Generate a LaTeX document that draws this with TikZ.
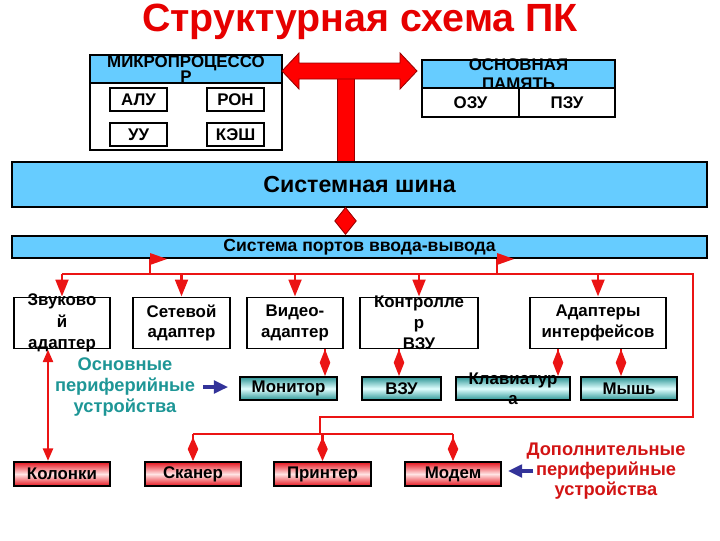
\documentclass[tikz,border=0pt]{standalone}
\usepackage{fontspec}
\setmainfont{Liberation Sans}
\usepackage{tikz}
\usetikzlibrary{arrows.meta, positioning}
\usepackage{xcolor}
\definecolor{bluebar}{RGB}{102,204,255}
\definecolor{redarrow}{RGB}{255,0,0}
\definecolor{darkred}{RGB}{150,0,0}
\definecolor{redline}{RGB}{235,20,20}
\definecolor{titlered}{RGB}{230,0,0}
\definecolor{tealtxt}{RGB}{30,150,150}
\definecolor{tealbox}{RGB}{45,150,150}
\definecolor{tealmid}{RGB}{225,255,255}
\definecolor{redbox}{RGB}{230,20,30}
\definecolor{pinkmid}{RGB}{255,228,228}
\definecolor{navyarr}{RGB}{51,51,153}
\definecolor{dopred}{RGB}{210,20,20}

\begin{document}
\begin{tikzpicture}[x = 0.025cm, y = -0.025cm,
    sz/.style 2 args = {minimum width = #1*0.025cm, minimum height = #2*0.025cm},
    blk/.style = {draw, line width = 1.4pt, fill = white, inner sep = 0pt},
    txt/.style n args = {3}{label = {[font = \fontsize{#2}{#3}\selectfont\bfseries, align = center, inner sep = 0pt]center:#1}},
    bar/.style = {blk, fill = bluebar},
    dev/.style = {blk, top color = tealbox, bottom color = tealbox, middle color = tealmid},
    per/.style = {blk, top color = redbox, bottom color = redbox, middle color = pinkmid},
    rline/.style = {draw = redline, line width = 2pt},
    rarr/.style = {rline, -{Triangle[length = 12pt, width = 9pt]}},
    rdia/.style = {rline, -{Diamond[length = #1, width = 7.5pt]}},
    barr/.style = {draw = navyarr, line width = 2.2pt, -{Triangle[length = 10pt, width = 9pt]}},
    note/.style = {font = \fontsize{13}{15}\selectfont\bfseries, align = center, inner sep = 0pt},
    tarrow/.style = {fill = redarrow, draw = darkred, line width = 0.6pt}
]
    % Parametri (righe)
    \pgfmathsetmacro{\yad}{323}
    \pgfmathsetmacro{\ydev}{388.5}
    \pgfmathsetmacro{\yper}{474}
    \pgfmathsetmacro{\ytree}{274}
    \useasboundingbox (0,0) rectangle (720,540);
    % Titolo
    \node[font = \fontsize{28}{32}\selectfont\bfseries, text = titlered] (title) at (360,22) {Структурная схема ПК};
    % Microprocessore
    \node[blk, sz = {192}{95}] (mp) at (186,102.5) {};
    \node[bar, sz = {192}{28}, txt = {МИКРОПРОЦЕССО\\Р}{12}{11}] (mph) at (186,69) {};
    \node[blk, sz = {57}{23}, txt = {АЛУ}{12}{14}] (alu) at (138.5,99.5) {};
    \node[blk, sz = {57}{23}, txt = {РОН}{12}{14}] (ron) at (235.5,99.5) {};
    \node[blk, sz = {57}{23}, txt = {УУ}{12}{14}] (uu) at (138.5,134.5) {};
    \node[blk, sz = {57}{23}, txt = {КЭШ}{12}{14}] (kesh) at (235.5,134.5) {};
    % Memoria
    \node[blk, sz = {193}{57}] (mem) at (518.5,88.5) {};
    \node[bar, sz = {193}{28}, txt = {ОСНОВНАЯ\\ПАМЯТЬ}{12}{13.5}] (memh) at (518.5,74) {};
    \node[blk, sz = {97}{29}, txt = {ОЗУ}{12}{14}] (ozu) at (470.5,102.5) {};
    \node[blk, sz = {96}{29}, txt = {ПЗУ}{12}{14}] (pzu) at (567,102.5) {};
    % Freccia a T
    \filldraw[tarrow] (337,75) rectangle (354,162);
    \filldraw[tarrow] (282,71) -- (299,53) -- (299,63) -- (400,63) -- (400,53) -- (417,71)
        -- (400,89) -- (400,79) -- (299,79) -- (299,89) -- cycle;
    % Bus e porte
    \node[bar, line width = 1.6pt, sz = {695}{45}, txt = {Системная шина}{16.5}{19}] (bus) at (359.5,184.5) {};
    \node[bar, sz = {695}{22}, txt = {Система портов ввода-вывода}{12.5}{15}] (ports) at (359.5,247) {};
    \coordinate (d0) at (345.5,222);
    \draw[draw = darkred, line width = 0.6pt, -{Diamond[length = 20pt, width = 16pt, fill = redarrow]}]
        (d0 |- bus.south) -- (d0 |- ports.north);
    % Adattatori
    \node[blk, sz = {96}{51}, txt = {Звуково\\й\\адаптер}{12}{15.5}] (snd) at (62,\yad) {};
    \node[blk, sz = {97}{51}, txt = {Сетевой\\адаптер}{12}{14.5}] (net) at (181.5,\yad) {};
    \node[blk, sz = {96}{51}, txt = {Видео-\\адаптер}{12}{14.5}] (vid) at (295,\yad) {};
    \node[blk, sz = {118}{51}, txt = {Контролле\\р\\ВЗУ}{12}{15}] (ctl) at (419,\yad) {};
    \node[blk, sz = {136}{51}, txt = {Адаптеры\\интерфейсов}{12}{14.5}] (ifc) at (598,\yad) {};
    % Periferiche principali
    \node[dev, sz = {97}{23}, txt = {Монитор}{12}{14}] (mon) at (288.5,\ydev) {};
    \node[dev, sz = {79}{23}, txt = {ВЗУ}{12}{14}] (vzu) at (401.5,\ydev) {};
    \node[dev, sz = {114}{23}, txt = {Клавиатур\\а}{12}{14}] (kbd) at (513,\ydev) {};
    \node[dev, sz = {96}{23}, txt = {Мышь}{12}{14}] (mou) at (629,\ydev) {};
    % Periferiche aggiuntive
    \node[per, sz = {96}{24}, txt = {Колонки}{12}{14}] (kol) at (62,\yper) {};
    \node[per, sz = {96}{24}, txt = {Сканер}{12}{14}] (scan) at (193,\yper) {};
    \node[per, sz = {97}{24}, txt = {Принтер}{12}{14}] (prn) at (322.5,\yper) {};
    \node[per, sz = {96}{24}, txt = {Модем}{12}{14}] (mod) at (453,\yper) {};
    % Collegamenti
    \coordinate (t1) at (150,\ytree);
    \coordinate (t2) at (497,\ytree);
    \coordinate (c1) at (693,\ytree);
    \coordinate (c2) at (693,417);
    \coordinate (c3) at (320,417);
    \coordinate (c4) at (320,434);
    \draw[rline] (snd.north |- c1) -- (c1) -- (c2) -- (c3) -- (c4);
    \draw[rline] (scan.north |- c4) -- (mod.north |- c4);
    \foreach \t in {t1, t2} {
        \draw[rline] (\t |- ports.south) -- (\t);
        \fill[redline] (\t |- ports.south) ++(0,-6) -- ++(17,6) -- ++(-17,6) -- cycle;
    }
    \foreach \n in {snd, net, vid, ctl, ifc}
        \draw[rarr] (\n.north |- c1) -- (\n.north);
    \foreach \n in {scan, prn, mod}
        \draw[rdia = 17pt] (\n.north |- c4) -- (\n.north);
    \coordinate (m1) at (325,0);
    \coordinate (m2) at (399,0);
    \coordinate (m3) at (558,0);
    \coordinate (m4) at (621,0);
    \draw[rdia = 19pt] (m1 |- vid.south) -- (m1 |- mon.north);
    \draw[rdia = 19pt] (m2 |- ctl.south) -- (m2 |- vzu.north);
    \draw[rdia = 19pt] (m3 |- ifc.south) -- (m3 |- kbd.north);
    \draw[rdia = 19pt] (m4 |- ifc.south) -- (m4 |- mou.north);
    \coordinate (k1) at (48,0);
    \draw[rline, {Triangle[length = 9pt, width = 7pt]}-{Triangle[length = 9pt, width = 7pt]}]
        (k1 |- snd.south) -- (k1 |- kol.north);
    % Didascalie
    \node[note, text = tealtxt] (osn) at (125,387) {Основные\\периферийные\\устройства};
    \node[note, text = dopred, font = \fontsize{13}{14.5}\selectfont\bfseries] (dop) at (606,471) {Дополнительные\\периферийные\\устройства};
    \draw[barr, shorten <= 5.7pt, shorten >= 7.8pt] (osn.east) -- (osn.east -| mon.west);
    \draw[barr, shorten <= -5pt, shorten >= 4.3pt] (dop.west) -- (dop.west -| mod.east);
\end{tikzpicture}
\end{document}
